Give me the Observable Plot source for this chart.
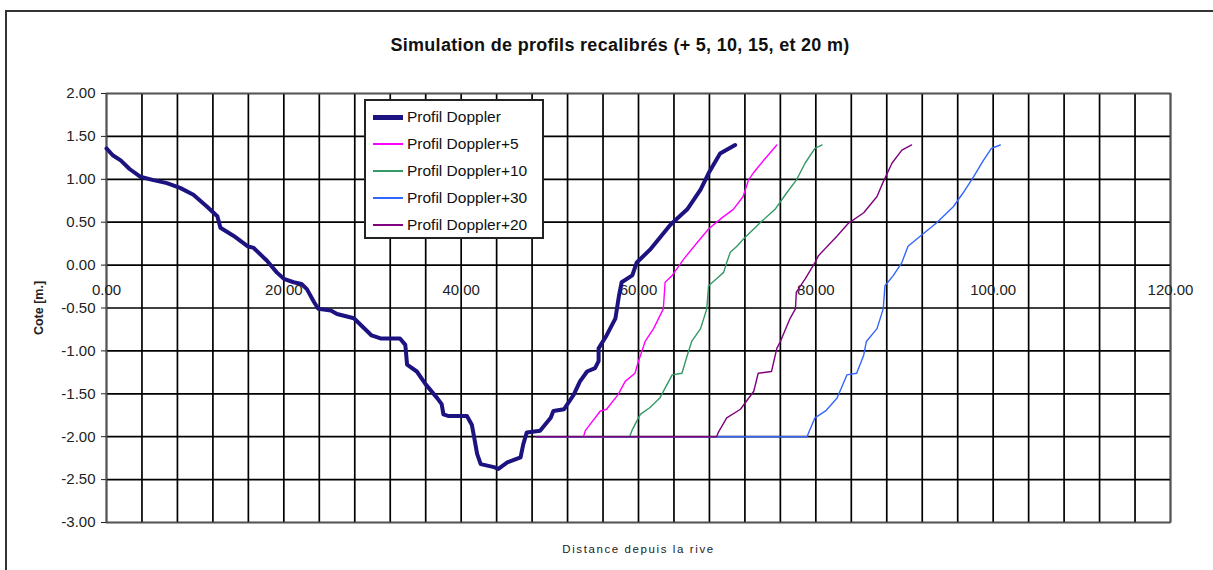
<!DOCTYPE html>
<html>
<head>
<meta charset="utf-8">
<script src="https://cdn.jsdelivr.net/npm/d3@7"></script>
<script src="https://cdn.jsdelivr.net/npm/@observablehq/plot@0.6"></script>
<style>
  html, body { margin: 0; padding: 0; background: #fff; }
  #wrap { position: relative; width: 1213px; height: 570px; overflow: hidden; background: #fff; font-family: "Liberation Sans", Arial, sans-serif; }
  #outer { position: absolute; left: 5px; top: 10px; width: 1300px; height: 700px; border-left: 2px solid #333; border-top: 2px solid #333; }
  #title { position: absolute; left: 620px; top: 35px; transform: translateX(-50%); white-space: nowrap; font-family: "Liberation Sans Narrow", "Liberation Sans", Arial, sans-serif; font-weight: bold; font-size: 18px; color: #111; letter-spacing: 0.3px; }
  #chart { position: absolute; left: 0; top: 0; }
  #legend { position: absolute; left: 364px; top: 99px; width: 176px; height: 136px; border: 2px solid #222; background: #fff; }
  .row { position: absolute; left: 0; height: 20px; display: flex; align-items: center; font-size: 15.5px; color: #111; white-space: nowrap; }
  .sw { width: 30px; margin-left: 7px; margin-right: 4px; }
  svg [aria-label="x-axis label"] text { letter-spacing: 1.6px; }
</style>
</head>
<body>
<div id="wrap">
  <div id="outer"></div>
  <div id="chart"></div>
  <div id="title"></div>
  <div id="legend"></div>
</div>
<script>
// ---------- data ----------
const titleText = "Simulation de profils recalibrés (+ 5, 10, 15, et 20 m)";
const xTitle = "Distance depuis la rive";
const yTitle = "Cote [m.]";

const seriesNames = ["Profil Doppler", "Profil Doppler+5", "Profil Doppler+10", "Profil Doppler+30", "Profil Doppler+20"];
const seriesColors = ["#1c1280", "#ff00ff", "#339966", "#3366ff", "#800080"];

const dopplerX = [0, 0.7, 1.6, 2.6, 3.8, 5.3, 6.8, 8.3, 9.8, 11.35, 12.5, 12.85, 14.35, 15.9, 16.6, 18.1, 19.2, 20.0, 21.1, 22.0, 22.6, 23.4, 23.9, 25.3, 26.0, 27.9, 29.9, 30.9, 33.1, 33.7, 33.9, 35.0, 36.0, 37.3, 37.8, 38.0, 38.6, 40.65, 41.2, 41.4, 41.8, 42.2, 43.7, 44.2, 45.2, 46.7, 47.0, 47.4, 48.9, 50.1, 50.4, 51.6, 52.7, 53.4, 54.2, 55.1, 55.5, 55.5, 56.4, 57.4, 57.8, 58.1, 59.3, 59.8, 61.3, 63.6, 65.5, 67.0, 67.9, 69.2, 70.9];
const dopplerY = [1.36, 1.28, 1.22, 1.12, 1.03, 0.99, 0.955, 0.90, 0.82, 0.68, 0.57, 0.435, 0.34, 0.22, 0.20, 0.05, -0.085, -0.16, -0.2, -0.22, -0.28, -0.43, -0.51, -0.53, -0.57, -0.62, -0.82, -0.855, -0.855, -0.93, -1.16, -1.24, -1.39, -1.55, -1.62, -1.74, -1.76, -1.76, -1.86, -1.97, -2.2, -2.32, -2.355, -2.375, -2.30, -2.24, -2.09, -1.95, -1.93, -1.78, -1.70, -1.68, -1.51, -1.355, -1.24, -1.20, -1.12, -0.97, -0.82, -0.62, -0.355, -0.2, -0.12, 0.03, 0.18, 0.47, 0.65, 0.88, 1.07, 1.30, 1.40];

const plus5X = [48.5, 53.8, 54.0, 55.7, 56.4, 57.7, 58.5, 59.6, 60.0, 60.75, 61.7, 62.8, 63.0, 63.8, 65.1, 66.6, 67.9, 69.4, 70.7, 71.8, 72.4, 73.0, 74.1, 75.6];
const plus5Y = [-2, -2, -1.93, -1.70, -1.68, -1.51, -1.355, -1.26, -1.12, -0.89, -0.74, -0.51, -0.2, -0.12, 0.07, 0.26, 0.42, 0.55, 0.65, 0.80, 0.99, 1.08, 1.22, 1.40];

const plus10X = [48.5, 59.0, 59.25, 60.2, 61.3, 62.4, 63.8, 64.9, 65.5, 66.0, 67.0, 67.7, 67.9, 68.8, 69.6, 69.95, 70.35, 71.1, 71.8, 73.9, 75.4, 76.7, 77.8, 78.8, 79.9, 80.7];
const plus10Y = [-2, -2, -1.93, -1.74, -1.66, -1.55, -1.28, -1.26, -1.05, -0.89, -0.74, -0.51, -0.24, -0.16, -0.085, 0.03, 0.15, 0.22, 0.30, 0.51, 0.65, 0.84, 0.99, 1.19, 1.36, 1.40];

const plus30X = [48.5, 79.0, 79.2, 79.9, 81.1, 82.4, 83.5, 84.6, 85.4, 85.7, 86.9, 87.6, 87.8, 88.75, 89.7, 90.4, 91.8, 93.6, 95.5, 96.6, 97.8, 98.9, 99.8, 100.8];
const plus30Y = [-2, -2, -1.95, -1.78, -1.70, -1.55, -1.28, -1.26, -1.05, -0.89, -0.74, -0.51, -0.24, -0.12, 0.03, 0.22, 0.34, 0.49, 0.68, 0.84, 1.03, 1.22, 1.36, 1.40];

const plus20X = [48.5, 68.8, 69.0, 69.95, 71.5, 73.0, 73.5, 75.0, 75.6, 76.0, 77.1, 77.7, 77.8, 78.8, 79.9, 80.3, 82.4, 83.7, 85.4, 86.9, 87.6, 88.6, 89.7, 90.8];
const plus20Y = [-2, -2, -1.95, -1.78, -1.68, -1.47, -1.26, -1.24, -0.97, -0.89, -0.62, -0.51, -0.315, -0.16, 0.03, 0.11, 0.34, 0.49, 0.61, 0.80, 0.97, 1.19, 1.34, 1.40];

const xTickLabels = [0, 20, 40, 60, 80, 100, 120];
const xGrid = d3.range(0, 121, 4);
const yTicks = [-3, -2.5, -2, -1.5, -1, -0.5, 0, 0.5, 1, 1.5, 2];

// ---------- build ----------
const seriesXY = [[dopplerX, dopplerY], [plus5X, plus5Y], [plus10X, plus10Y], [plus30X, plus30Y], [plus20X, plus20Y]];
const widths = [4, 1.4, 1.4, 1.4, 1.4];
const lines = seriesXY.map(([xs, ys], i) =>
  Plot.line(xs.map((x, j) => ({x, y: ys[j]})), {x: "x", y: "y", stroke: seriesColors[i], strokeWidth: widths[i], strokeLinejoin: "round", strokeLinecap: "round"})
);

const gridStyle = {stroke: "#000", strokeOpacity: 1, strokeWidth: 1.7};

const chart = Plot.plot({
  width: 1213,
  height: 570,
  marginLeft: 106,
  marginRight: 43,
  marginTop: 93,
  marginBottom: 48,
  style: {fontFamily: "'Liberation Sans', Arial, sans-serif", background: "transparent"},
  x: {domain: [0, 120]},
  y: {domain: [-3, 2]},
  marks: [
    Plot.gridX(xGrid, gridStyle),
    Plot.gridY(yTicks, gridStyle),
    Plot.frame({stroke: "#555", strokeWidth: 1.5}),
    Plot.axisY(yTicks, {tickFormat: d => d.toFixed(2), tickSize: 5, tickPadding: 6, fontSize: 15, label: null, color: "#222"}),
    Plot.axisY([], {label: yTitle, labelAnchor: "center", labelOffset: 72, labelArrow: "none", fontSize: 12.5, fontWeight: "bold", color: "#222"}),
    Plot.axisX([], {label: xTitle, labelAnchor: "center", labelOffset: 30, labelArrow: "none", fontSize: 11.5, color: "#222", tickSize: 0}),
    Plot.text(xTickLabels, {x: d => d, y: () => 0, text: d => d.toFixed(2), dy: 25, fontSize: 15, fill: "#222"}),
    ...lines
  ]
});
document.getElementById("chart").appendChild(chart);
document.getElementById("title").textContent = titleText;

// legend
const legend = document.getElementById("legend");
seriesNames.forEach((name, i) => {
  const row = document.createElement("div");
  row.className = "row";
  row.style.top = (6 + i * 27) + "px";
  const sw = document.createElement("div");
  sw.className = "sw";
  sw.style.height = (i === 0 ? 5 : 2) + "px";
  sw.style.background = seriesColors[i];
  const t = document.createElement("span");
  t.textContent = name;
  row.appendChild(sw);
  row.appendChild(t);
  legend.appendChild(row);
});
</script>
</body>
</html>
